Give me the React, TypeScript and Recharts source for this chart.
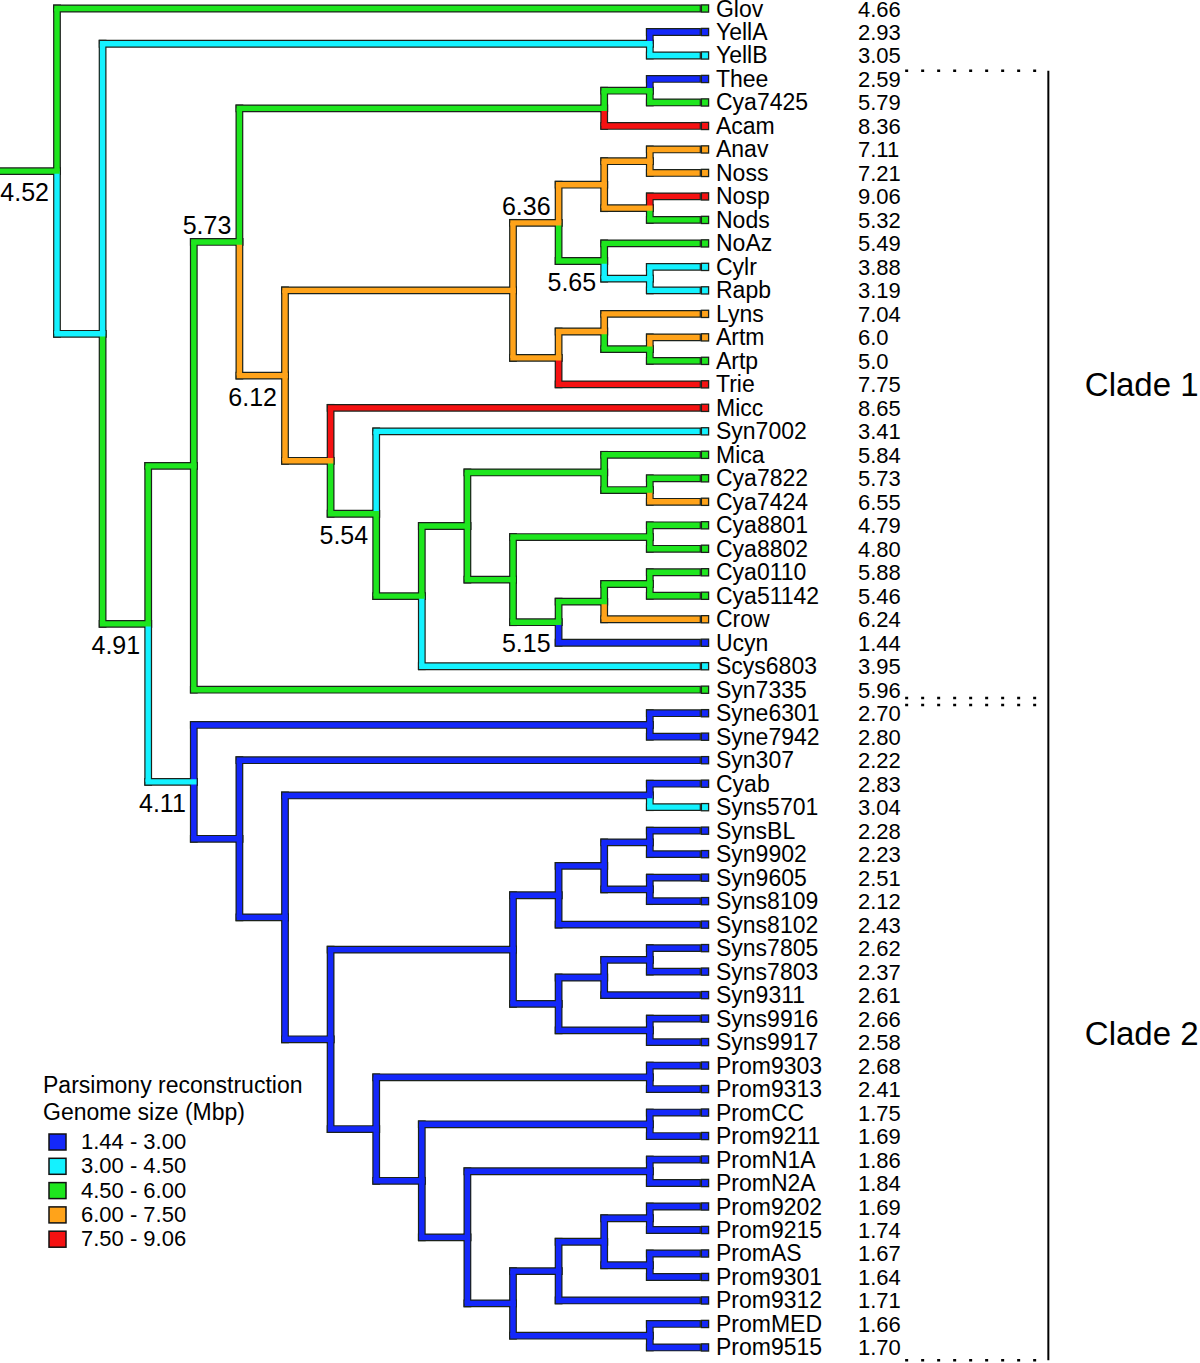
import React from "react";
import { ComposedChart, XAxis, YAxis, ReferenceLine, Scatter } from "recharts";

// ---------- DATA ----------
const leafNames = [
  "Glov", "YellA", "YellB", "Thee", "Cya7425", "Acam", "Anav", "Noss", "Nosp", "Nods",
  "NoAz", "Cylr", "Rapb", "Lyns", "Artm", "Artp", "Trie", "Micc", "Syn7002", "Mica",
  "Cya7822", "Cya7424", "Cya8801", "Cya8802", "Cya0110", "Cya51142", "Crow", "Ucyn", "Scys6803", "Syn7335",
  "Syne6301", "Syne7942", "Syn307", "Cyab", "Syns5701", "SynsBL", "Syn9902", "Syn9605", "Syns8109", "Syns8102",
  "Syns7805", "Syns7803", "Syn9311", "Syns9916", "Syns9917", "Prom9303", "Prom9313", "PromCC", "Prom9211", "PromN1A",
  "PromN2A", "Prom9202", "Prom9215", "PromAS", "Prom9301", "Prom9312", "PromMED", "Prom9515",
];

const leafSizes = [
  "4.66", "2.93", "3.05", "2.59", "5.79", "8.36", "7.11", "7.21", "9.06", "5.32",
  "5.49", "3.88", "3.19", "7.04", "6.0", "5.0", "7.75", "8.65", "3.41", "5.84",
  "5.73", "6.55", "4.79", "4.80", "5.88", "5.46", "6.24", "1.44", "3.95", "5.96",
  "2.70", "2.80", "2.22", "2.83", "3.04", "2.28", "2.23", "2.51", "2.12", "2.43",
  "2.62", "2.37", "2.61", "2.66", "2.58", "2.68", "2.41", "1.75", "1.69", "1.86",
  "1.84", "1.69", "1.74", "1.67", "1.64", "1.71", "1.66", "1.70",
];

const binColors = ["#1428fa", "#14f2ff", "#1ee61e", "#ffa31a", "#f51212"];
const binLabels = ["1.44 - 3.00", "3.00 - 4.50", "4.50 - 6.00", "6.00 - 7.50", "7.50 - 9.06"];
const binUpper = [3.0, 4.5, 6.0, 7.5];

// internal nodes: [id, depth (column), colour bin of reconstructed state, upper child, lower child]
const internalNodes: [string, number, number, string, string][] = [
  ["R", 0, 2, "Glov", "A"],
  ["A", 1, 1, "Yell", "B"],
  ["Yell", 13, 1, "YellA", "YellB"],
  ["B", 2, 2, "C", "D"],
  ["C", 3, 2, "E", "Syn7335"],
  ["E", 4, 2, "F", "G"],
  ["F", 12, 2, "F1", "Acam"],
  ["F1", 13, 2, "Thee", "Cya7425"],
  ["G", 5, 3, "J", "I"],
  ["J", 10, 3, "S", "T"],
  ["S", 11, 3, "V", "W"],
  ["V", 12, 3, "V1", "V2"],
  ["V1", 13, 3, "Anav", "Noss"],
  ["V2", 13, 3, "Nosp", "Nods"],
  ["W", 12, 2, "NoAz", "W1"],
  ["W1", 13, 1, "Cylr", "Rapb"],
  ["T", 11, 3, "U", "Trie"],
  ["U", 12, 3, "Lyns", "U1"],
  ["U1", 13, 2, "Artm", "Artp"],
  ["I", 6, 3, "Micc", "K"],
  ["K", 7, 2, "Syn7002", "L"],
  ["L", 8, 2, "M", "Scys6803"],
  ["M", 9, 2, "N", "O"],
  ["N", 12, 2, "Mica", "N1"],
  ["N1", 13, 2, "Cya7822", "Cya7424"],
  ["O", 10, 2, "O1", "P"],
  ["O1", 13, 2, "Cya8801", "Cya8802"],
  ["P", 11, 2, "Q", "Ucyn"],
  ["Q", 12, 2, "Q1", "Crow"],
  ["Q1", 13, 2, "Cya0110", "Cya51142"],
  ["D", 3, 1, "D1", "X"],
  ["D1", 13, 0, "Syne6301", "Syne7942"],
  ["X", 4, 0, "Syn307", "Y"],
  ["Y", 5, 0, "Y1", "Z"],
  ["Y1", 13, 0, "Cyab", "Syns5701"],
  ["Z", 6, 0, "Z1", "Z2"],
  ["Z1", 10, 0, "AA", "AB"],
  ["AA", 11, 0, "AA1", "Syns8102"],
  ["AA1", 12, 0, "AA2", "AA3"],
  ["AA2", 13, 0, "SynsBL", "Syn9902"],
  ["AA3", 13, 0, "Syn9605", "Syns8109"],
  ["AB", 11, 0, "AB1", "AB2"],
  ["AB1", 12, 0, "AB3", "Syn9311"],
  ["AB3", 13, 0, "Syns7805", "Syns7803"],
  ["AB2", 13, 0, "Syns9916", "Syns9917"],
  ["Z2", 7, 0, "Z3", "Z4"],
  ["Z3", 13, 0, "Prom9303", "Prom9313"],
  ["Z4", 8, 0, "Z5", "AC"],
  ["Z5", 13, 0, "PromCC", "Prom9211"],
  ["AC", 9, 0, "AC1", "AD"],
  ["AC1", 13, 0, "PromN1A", "PromN2A"],
  ["AD", 10, 0, "AE", "AD1"],
  ["AD1", 13, 0, "PromMED", "Prom9515"],
  ["AE", 11, 0, "AF", "Prom9312"],
  ["AF", 12, 0, "AF1", "AF2"],
  ["AF1", 13, 0, "Prom9202", "Prom9215"],
  ["AF2", 13, 0, "PromAS", "Prom9301"],
];

// reconstructed values shown at nodes: [node id, label, placement]
const nodeLabels: [string, string, "above" | "below"][] = [
  ["R", "4.52", "below"],
  ["B", "4.91", "below"],
  ["E", "5.73", "above"],
  ["G", "6.12", "below"],
  ["S", "6.36", "above"],
  ["W", "5.65", "below"],
  ["K", "5.54", "below"],
  ["P", "5.15", "below"],
  ["D", "4.11", "below"],
];

const clades: [string, string, string][] = [
  ["Clade 1", "Thee", "Syn7335"],
  ["Clade 2", "Syne6301", "Prom9515"],
];

const legendTitle = ["Parsimony reconstruction", "Genome size (Mbp)"];

// ---------- LAYOUT CONSTANTS ----------
const W = 1200;
const H = 1363;
const LEAF_DEPTH = 14.035;
const ROOT_STUB = -1.25;
const X_DOMAIN: [number, number] = [-1.25, 25.0658];
const Y_DOMAIN: [number, number] = [-0.3619, 57.662];
const BRACKET_X1 = 18.6;
const BRACKET_X2 = 21.71;
const FONT = "'Liberation Sans', Arial, Helvetica, sans-serif";
const OUTLINE = "#1b221b";

// ---------- TREE GEOMETRY ----------
const leafIndex = new Map<string, number>(leafNames.map((n, i) => [n, i]));
const nodeMap = new Map(internalNodes.map((n) => [n[0], n]));

function binOf(v: number): number {
  let b = 0;
  while (b < binUpper.length && v >= binUpper[b]) b++;
  return b;
}
const yCache = new Map<string, number>();
function yOf(id: string): number {
  if (leafIndex.has(id)) return leafIndex.get(id) as number;
  if (yCache.has(id)) return yCache.get(id) as number;
  const n = nodeMap.get(id)!;
  const v = (yOf(n[3]) + yOf(n[4])) / 2;
  yCache.set(id, v);
  return v;
}
function depthOf(id: string): number {
  if (leafIndex.has(id)) return LEAF_DEPTH;
  return nodeMap.get(id)![1];
}
function colorOf(id: string): string {
  if (leafIndex.has(id)) return binColors[binOf(parseFloat(leafSizes[leafIndex.get(id) as number]))];
  return binColors[nodeMap.get(id)![2]];
}

type Seg = { x1: number; y1: number; x2: number; y2: number; color: string };
const verticals: Seg[] = [];
const horizontals: Seg[] = [];
horizontals.push({ x1: ROOT_STUB, y1: yOf("R"), x2: 0, y2: yOf("R"), color: colorOf("R") });
internalNodes.forEach((n) => {
  const d = n[1];
  const y = yOf(n[0]);
  [n[3], n[4]].forEach((c) => {
    const col = colorOf(c);
    verticals.push({ x1: d, y1: y, x2: d, y2: yOf(c), color: col });
    horizontals.push({ x1: d, y1: yOf(c), x2: depthOf(c), y2: yOf(c), color: col });
  });
});

const leafData = leafNames.map((name, i) => ({
  x: LEAF_DEPTH,
  y: i,
  name,
  size: leafSizes[i],
  color: colorOf(name),
}));

const labelData = nodeLabels.map(([id, label, pos]) => ({
  x: depthOf(id),
  y: yOf(id),
  label,
  pos,
}));

const cladeData = clades.map(([name, a, b]) => {
  const top = (leafIndex.get(a) as number) - 0.35;
  const bottom = (leafIndex.get(b) as number) + (b === leafNames[leafNames.length - 1] ? 0.55 : 0.35);
  return { name, top, bottom, x: 22.54, y: (top + bottom) / 2 };
});
const cladeSeps: number[] = [];
cladeData.forEach((c) => {
  cladeSeps.push(c.top);
  cladeSeps.push(c.bottom);
});

const seg = (s: Seg) => [
  { x: s.x1, y: s.y1 },
  { x: s.x2, y: s.y2 },
];

const LeafShape = (props: any) => {
  const { cx, cy, payload } = props;
  const sx = cx + 8;
  return (
    <g>
      <rect x={sx - 3.6} y={cy - 3.6} width={7.2} height={7.2} fill={payload.color} stroke={OUTLINE} strokeWidth={1.3} />
      <text x={cx + 19} y={cy + 8} fontSize={23} fontFamily={FONT} fill="#000">
        {payload.name}
      </text>
      <text x={cx + 161} y={cy + 8} fontSize={22} fontFamily={FONT} fill="#000">
        {payload.size}
      </text>
    </g>
  );
};

const NodeLabelShape = (props: any) => {
  const { cx, cy, payload } = props;
  return (
    <text
      x={cx - 8}
      y={payload.pos === "above" ? cy - 8 : cy + 30}
      textAnchor="end"
      fontSize={25}
      fontFamily={FONT}
      fill="#000"
    >
      {payload.label}
    </text>
  );
};

const CladeShape = (props: any) => {
  const { cx, cy, payload } = props;
  return (
    <text x={cx} y={cy + 12} fontSize={33} fontFamily={FONT} fill="#000">
      {payload.name}
    </text>
  );
};

export default function App() {
  return (
    <div style={{ position: "absolute", left: 0, top: 0, width: W, height: H, background: "#fff", overflow: "hidden" }}>
      <ComposedChart width={W} height={H} margin={{ top: 0, right: 0, bottom: 0, left: 0 }} data={leafData}>
        <XAxis type="number" dataKey="x" domain={X_DOMAIN} allowDataOverflow hide />
        <YAxis type="number" dataKey="y" domain={Y_DOMAIN} allowDataOverflow reversed hide />

        {/* outlines */}
        {[...verticals, ...horizontals].map((s, i) => (
          <ReferenceLine
            key={"o" + i}
            segment={seg(s)}
            stroke={OUTLINE}
            strokeWidth={7.8}
            strokeLinecap="square"
            ifOverflow="visible"
          />
        ))}
        {/* coloured fills */}
        {verticals.map((s, i) => (
          <ReferenceLine
            key={"v" + i}
            segment={seg(s)}
            stroke={s.color}
            strokeWidth={5.4}
            strokeLinecap="butt"
            ifOverflow="visible"
          />
        ))}
        {horizontals.map((s, i) => (
          <ReferenceLine
            key={"h" + i}
            segment={seg(s)}
            stroke={s.color}
            strokeWidth={5.4}
            strokeLinecap="square"
            ifOverflow="visible"
          />
        ))}

        {/* clade brackets */}
        {cladeSeps.map((y, i) => (
          <ReferenceLine
            key={"c" + i}
            segment={[
              { x: BRACKET_X1, y },
              { x: BRACKET_X2, y },
            ]}
            stroke="#000"
            strokeWidth={2.5}
            strokeDasharray="3 13"
            ifOverflow="visible"
          />
        ))}
        <ReferenceLine
          segment={[
            { x: BRACKET_X2 + 0.03, y: cladeData[0].top },
            { x: BRACKET_X2 + 0.03, y: cladeData[cladeData.length - 1].bottom },
          ]}
          stroke="#000"
          strokeWidth={2}
          ifOverflow="visible"
        />

        <Scatter data={leafData} dataKey="y" shape={LeafShape} isAnimationActive={false} />
        <Scatter data={labelData} dataKey="y" shape={NodeLabelShape} isAnimationActive={false} />
        <Scatter data={cladeData} dataKey="y" shape={CladeShape} isAnimationActive={false} />
      </ComposedChart>

      <svg width={330} height={200} style={{ position: "absolute", left: 0, top: 1060 }}>
        {legendTitle.map((t, i) => (
          <text key={t} x={43} y={33 + i * 27} fontSize={23} fontFamily={FONT} fill="#000">
            {t}
          </text>
        ))}
        {binLabels.map((t, i) => (
          <g key={t}>
            <rect x={49} y={74 + i * 24.3} width={17} height={16} fill={binColors[i]} stroke="#111" strokeWidth={1.5} />
            <text x={81} y={89 + i * 24.3} fontSize={22} fontFamily={FONT} fill="#000">
              {t}
            </text>
          </g>
        ))}
      </svg>
    </div>
  );
}
